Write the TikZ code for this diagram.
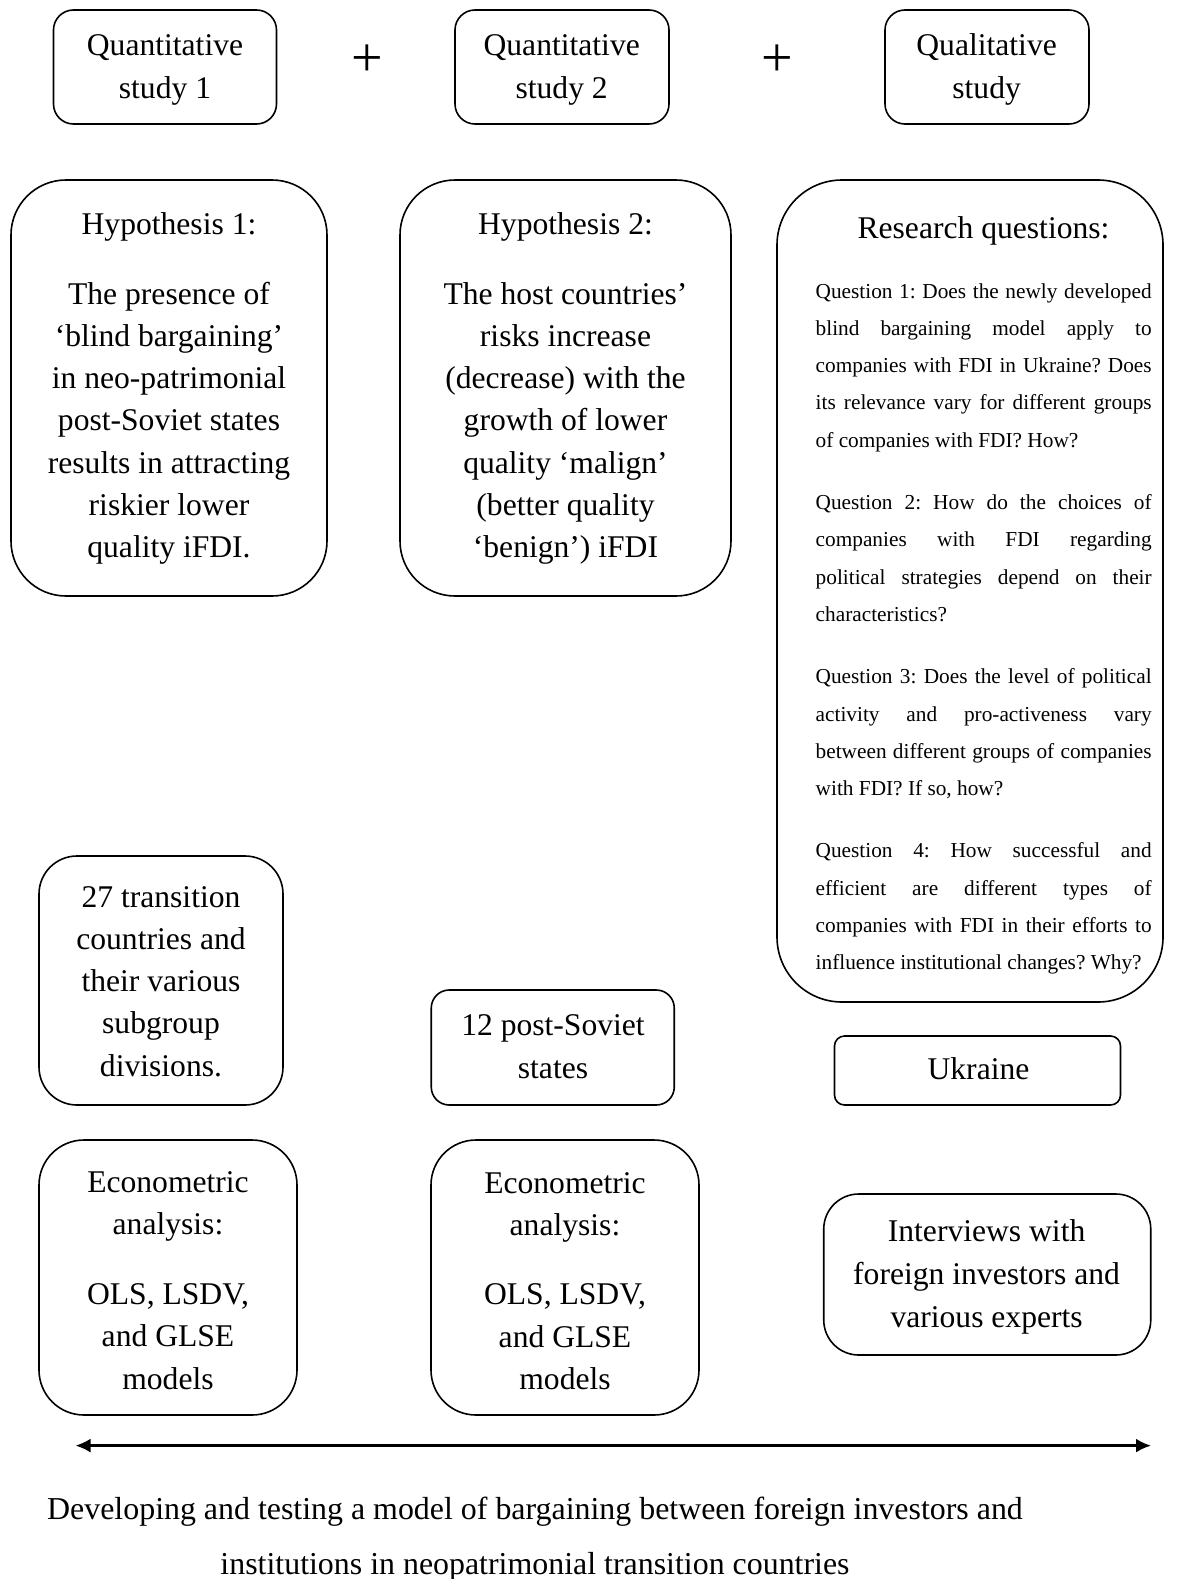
\documentclass[tikz,border=0pt]{standalone}
\usepackage{fontspec}
\setmainfont{Liberation Serif}
\usetikzlibrary{arrows.meta}

% Multi-line centred labels are placed by the baseline of their last line.
\tikzset{
  card/.style={draw, line width=1.6pt, rounded corners=#1, inner sep=0pt},
  card/.default=20pt,
  small/.style={font=\fontsize{31.6}{43.3}\selectfont, align=center, anchor=base, inner sep=0pt},
  body/.style={font=\fontsize{31.6}{42.3}\selectfont, align=center, anchor=base, inner sep=0pt},
  questions/.style={font=\fontsize{21.3}{37.3}\selectfont\frenchspacing, text width=336pt, align=justify,
                    anchor=base west, inner sep=0pt},
  plus/.style={font=\fontsize{56}{56}\selectfont, inner sep=0pt},
  span/.style={{Latex[length=15pt,width=14pt]}-{Latex[length=15pt,width=14pt]}, line width=2.4pt},
}

\begin{document}
\begin{tikzpicture}[x=1pt, y=-1pt]
\useasboundingbox (0,0) rectangle (1197,1579);

% --- the three studies ---
\node[card=20pt, minimum width=223pt, minimum height=114pt] (qa) at (165,67) {};
\node[card=20pt, minimum width=214pt, minimum height=114pt] (qb) at (562,67) {};
\node[card=20pt, minimum width=204pt, minimum height=114pt] (qc) at (987,67) {};
\node[small] (qaT) at (165,98.5) {Quantitative\\study 1};
\node[small] (qbT) at (561.7,98.5) {Quantitative\\study 2};
\node[small] (qcT) at (986.6,98.5) {Qualitative\\study};
\node[plus] (plusA) at (367.5,60.5) {+};
\node[plus] (plusB) at (777,60.5) {+};

% --- hypotheses and research questions ---
\node[card=55pt, minimum width=316pt, minimum height=416pt] (hypA) at (169,388) {};
\node[card=55pt, minimum width=331pt, minimum height=416pt] (hypB) at (565.5,388) {};
\node[card=65pt, minimum width=386pt, minimum height=822pt] (rq) at (970,591) {};

\node[body] (hypAT) at (169,557.8) {Hypothesis 1:\\[27.2pt]The presence of\\‘blind bargaining’\\in neo-patrimonial\\post-Soviet states\\results in attracting\\riskier lower\\quality iFDI.};
\node[body] (hypBT) at (565.5,557.8) {Hypothesis 2:\\[27.2pt]The host countries’\\risks increase\\(decrease) with the\\growth of lower\\quality ‘malign’\\(better quality\\‘benign’) iFDI};

\node[body] (rqT) at (983.5,238.5) {Research questions:};
\node[questions] (rqQ) at (815.5,298) {\setlength{\parskip}{25pt}%
Question 1: Does the newly developed\linebreak blind bargaining model apply to\linebreak companies with FDI in Ukraine? Does\linebreak its relevance vary for different groups\linebreak of companies with FDI? How?\par
Question 2: How do the choices of\linebreak companies with FDI regarding\linebreak political strategies depend on their\linebreak characteristics?\par
Question 3: Does the level of political\linebreak activity and pro-activeness vary\linebreak between different groups of companies\linebreak with FDI? If so, how?\par
Question 4: How successful and\linebreak efficient are different types of\linebreak companies with FDI in their efforts to\linebreak influence institutional changes? Why?\par};

% --- samples ---
\node[card=38pt, minimum width=244pt, minimum height=249pt] (countries) at (161,980.5) {};
\node[card=18pt, minimum width=243pt, minimum height=115pt] (states) at (552.75,1047.5) {};
\node[card=10pt, minimum width=286pt, minimum height=69pt] (ukraine) at (977.5,1070.5) {};
\node[body] (countriesT) at (161,1076.2) {27 transition\\countries and\\their various\\subgroup\\divisions.};
\node[body] (statesT) at (553,1078) {12 post-Soviet\\states};
\node[body] (ukraineT) at (978.5,1079.5) {Ukraine};

% --- methods ---
\node[card=45pt, minimum width=258pt, minimum height=275pt] (econA) at (168,1277.5) {};
\node[card=45pt, minimum width=268pt, minimum height=275pt] (econB) at (565,1277.5) {};
\node[card=35pt, minimum width=327pt, minimum height=161pt] (interviews) at (987.25,1274.5) {};
\node[body] (econAT) at (168,1389) {Econometric\\analysis:\\[27.3pt]OLS, LSDV,\\and GLSE\\models};
\node[body] (econBT) at (565,1389.5) {Econometric\\analysis:\\[27.3pt]OLS, LSDV,\\and GLSE\\models};
\node[body, font=\fontsize{31.6}{43}\selectfont] (interviewsT) at (986.6,1327.5) {Interviews with\\foreign investors and\\various experts};

% --- overall aim ---
\coordinate (spanL) at (75.5,1445.6);
\coordinate (spanR) at (1151,1445.6);
\draw[span] (spanL) -- (spanR);
\node[body, font=\fontsize{31.9}{55}\selectfont] (aim) at (535,1574) {Developing and testing a model of bargaining between foreign investors and\\institutions in neopatrimonial transition countries};
\end{tikzpicture}
\end{document}
